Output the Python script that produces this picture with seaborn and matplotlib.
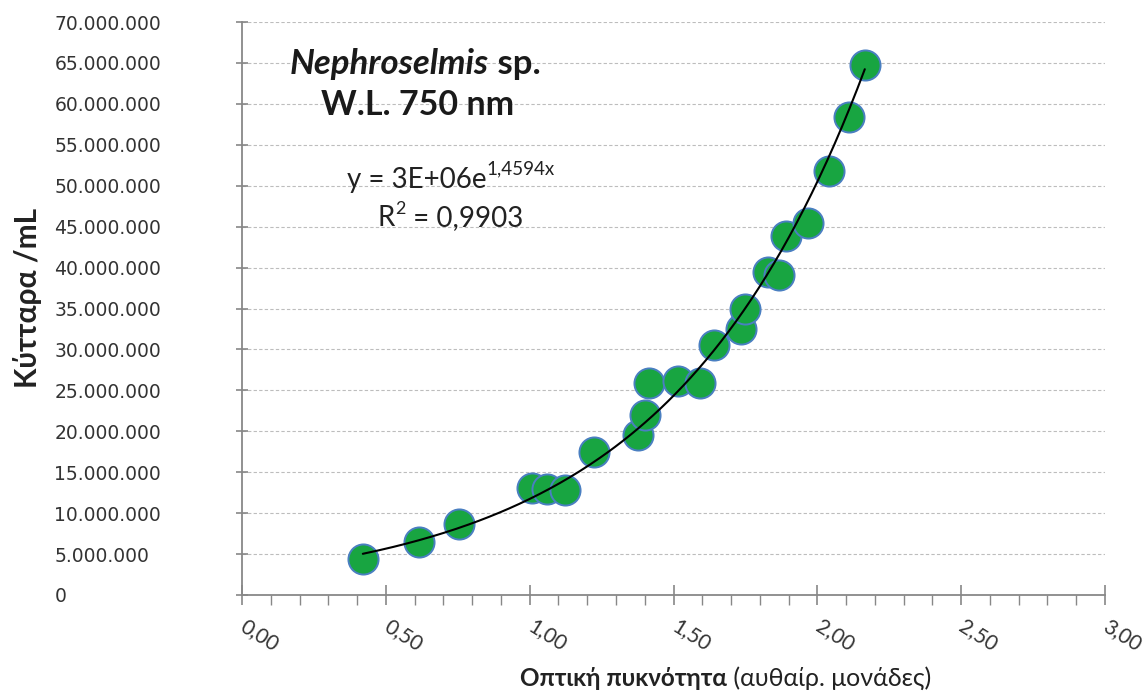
import numpy as np
import pandas as pd
import matplotlib
matplotlib.use("Agg")
import matplotlib.pyplot as plt
from matplotlib.ticker import MultipleLocator, FuncFormatter
import seaborn as sns

# ---- data ----
optical_density = [0.42, 0.615, 0.755, 1.008, 1.06, 1.123, 1.223, 1.376, 1.40, 1.415,
                   1.515, 1.592, 1.64, 1.734, 1.748, 1.828, 1.866, 1.89, 1.967, 2.04,
                   2.11, 2.165]
cells_per_ml = [4.4e6, 6.5e6, 8.7e6, 13.1e6, 12.9e6, 12.8e6, 17.5e6, 19.6e6, 22.0e6, 25.9e6,
                26.2e6, 25.9e6, 30.6e6, 32.5e6, 35.0e6, 39.5e6, 39.1e6, 43.8e6, 45.5e6, 51.8e6,
                58.4e6, 64.8e6]
title_lines = ["Nephroselmis", " sp.", "W.L. 750 nm"]
equation_main = "y = 3E+06e"
equation_sup = "1,4594x"
r2_main = "R"
r2_sup = "2"
r2_rest = " = 0,9903"
y_label = "Κύτταρα /mL"
x_label_bold = "Οπτική πυκνότητα"
x_label_regular = " (αυθαίρ. μονάδες)"

df = pd.DataFrame({"od": optical_density, "cells": cells_per_ml})

sns.set_style("white")
plt.rcParams["font.family"] = ["Lato", "DejaVu Sans"]

W, H = 1146, 691
fig = plt.figure(figsize=(W / 100, H / 100), dpi=100)
L, R, B, T = 242, 1105, 595, 22
ax = fig.add_axes([L / W, 1 - B / H, (R - L) / W, (B - T) / H])

# trendline: exponential fit (linear fit on ln y)
k, lna = np.polyfit(df["od"], np.log(df["cells"]), 1)
xs = np.linspace(df["od"].min(), df["od"].max(), 200)
ax.plot(xs, np.exp(lna) * np.exp(k * xs), color="black", lw=1.5, zorder=4)

sns.scatterplot(data=df, x="od", y="cells", ax=ax, s=470, color="#18a541",
                edgecolor="#4a7fc1", linewidth=1.4, zorder=3, legend=False)

ax.set_xlim(0, 3.0)
ax.set_ylim(0, 70e6)
ax.xaxis.set_major_locator(MultipleLocator(0.5))
ax.xaxis.set_minor_locator(MultipleLocator(0.1))
ax.yaxis.set_major_locator(MultipleLocator(5e6))

ax.xaxis.set_major_formatter(FuncFormatter(lambda v, p: f"{v:.2f}".replace(".", ",")))
ax.yaxis.set_major_formatter(FuncFormatter(lambda v, p: f"{int(round(v)):,}".replace(",", ".")))

ax.grid(axis="y", color="#bdbdbd", linestyle=(0, (3, 2)), linewidth=0.8)
ax.grid(axis="x", visible=False)
ax.set_axisbelow(True)

for s in ["top", "right"]:
    ax.spines[s].set_visible(False)
for s in ["left", "bottom"]:
    ax.spines[s].set_color("#888888")
    ax.spines[s].set_linewidth(1.3)

ax.tick_params(axis="y", which="major", direction="inout", length=8, width=1.2,
               color="#888888", left=True, labelsize=13.5, labelcolor="#333333", pad=131)
for lab in ax.get_yticklabels():
    lab.set_horizontalalignment("left")
    lab.set_fontfamily(["DejaVu Sans"])

ax.tick_params(axis="x", which="major", direction="inout", length=15, width=1.2,
               color="#888888", bottom=True, labelsize=15, labelcolor="#333333", pad=14)
ax.tick_params(axis="x", which="minor", direction="out", length=7, width=1.0,
               color="#888888", bottom=True)
for lab in ax.get_xticklabels():
    lab.set_rotation(-32)
    lab.set_horizontalalignment("left")
    lab.set_verticalalignment("center")
    lab.set_rotation_mode("anchor")

ax.set_xlabel("")
ax.set_ylabel("")

# y label
fig.text(28 / W, 1 - 298 / H, y_label, rotation=90, ha="center", va="center",
         fontsize=21.5, fontweight="bold", color="#222222")

# x label (bold part + regular part)
t1 = fig.text(520 / W, 1 - 686 / H, x_label_bold, ha="left", va="baseline",
              fontsize=17.5, fontweight="bold", color="#222222")
ax.annotate(x_label_regular, xy=(1, 0), xycoords=t1, ha="left", va="bottom",
            fontsize=18, color="#222222", annotation_clip=False)

# title
tt = fig.text(290 / W, 1 - 74 / H, title_lines[0], ha="left", va="baseline",
              fontsize=25, fontweight="bold", fontstyle="italic", color="#1a1a1a")
ax.annotate(title_lines[1], xy=(1, 0), xycoords=tt, ha="left", va="bottom",
            fontsize=25, fontweight="bold", color="#1a1a1a", annotation_clip=False)
fig.text(418 / W, 1 - 115 / H, title_lines[2], ha="center", va="baseline",
         fontsize=24.5, fontweight="bold", color="#1a1a1a")

# equation
eq = fig.text(347 / W, 1 - 188 / H, equation_main, ha="left", va="baseline",
              fontsize=20, color="#222222")
ax.annotate(equation_sup, xy=(1, 0.6), xycoords=eq, ha="left", va="bottom",
            fontsize=13.5, color="#222222", annotation_clip=False)
r1 = fig.text(378 / W, 1 - 226 / H, r2_main, ha="left", va="baseline",
              fontsize=20, color="#222222")
r2 = ax.annotate(r2_sup, xy=(1, 0.55), xycoords=r1, ha="left", va="bottom",
                 fontsize=13, color="#222222", annotation_clip=False)
ax.annotate(r2_rest, xy=(1.0, 0), xycoords=r1, xytext=(8, 0), textcoords="offset points",
            ha="left", va="bottom", fontsize=20, color="#222222", annotation_clip=False)

fig.savefig("out.png", dpi=100)
